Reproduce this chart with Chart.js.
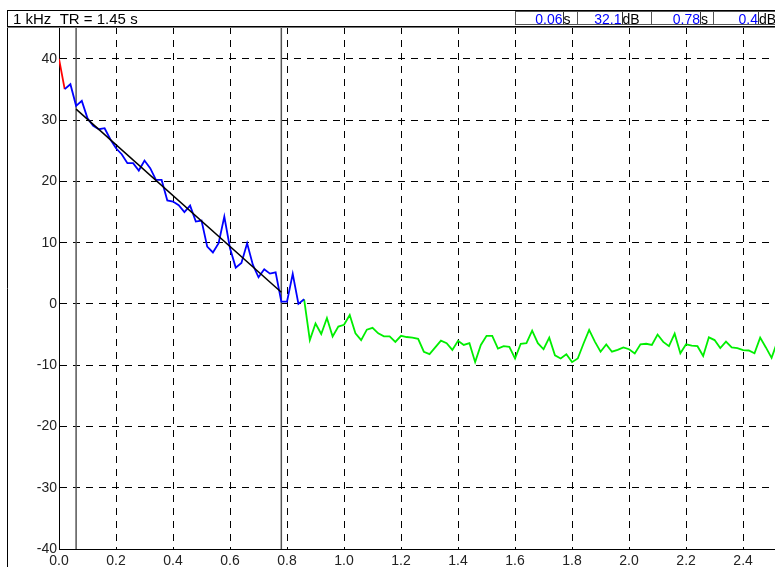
<!DOCTYPE html>
<html>
<head>
<meta charset="utf-8">
<script src="https://cdn.jsdelivr.net/npm/chart.js@4/dist/chart.umd.min.js"></script>
<style>
  html, body { margin: 0; padding: 0; background: #fff; }
  canvas { display: block; }
</style>
</head>
<body>
<canvas id="decay" width="775" height="567"></canvas>
<script>
// sample spacing of the decay curve, seconds
var DT = 0.02;

// decay levels in dB, split the way the picture colours them
var redStart = 0;
var redLevels = [40, 35.05];

var blueStart = 1;
var blueLevels = [
  35.05, 35.86, 32.33, 33.14, 30.31, 29.06, 28.52, 28.68, 26.88, 25.41,
  24.44, 22.97, 22.97, 21.77, 23.4, 22.15, 20.24, 20.24, 16.9, 16.7,
  16.1, 15.0, 16.05, 13.44, 13.6, 9.36, 8.4, 9.9, 14.26, 9.09,
  5.93, 6.7, 9.9, 6.4, 4.35, 5.66, 4.95, 5.17, 0.38, 0.38,
  4.9, 0.0, 0.76
];

var greenStart = 43;
var greenLevels = [
  0.76, -5.9, -3.2, -4.9, -2.3, -5.3, -3.7, -3.4, -1.8, -4.8,
  -5.9, -4.2, -3.9, -4.8, -5.3, -5.3, -6.2, -5.2, -5.4, -5.5,
  -5.7, -7.8, -8.2, -7.1, -6.0, -6.4, -7.5, -6.0, -6.7, -6.4,
  -9.5, -6.7, -5.2, -5.2, -7.3, -6.9, -7.0, -8.9, -6.5, -6.4,
  -4.35, -6.4, -7.4, -5.5, -8.4, -8.9, -8.2, -9.5, -8.9, -6.5,
  -4.24, -6.15, -7.8, -6.6, -7.8, -7.5, -7.1, -7.4, -8.1, -6.6,
  -6.5, -6.7, -5.0, -6.2, -6.9, -4.85, -8.05, -6.6, -6.8, -6.9,
  -8.5, -5.45, -5.9, -7.2, -6.15, -7.1, -7.2, -7.55, -7.6, -8.05,
  -5.5, -7.1, -8.8, -6.2
];

// regression line and evaluation limits
var fitTimes = [0.06, 0.78];
var fitLevels = [31.8, 1.9];
var markerTimes = [0.06, 0.78];

var title = "1 kHz  TR = 1.45 s";
var readoutValues = ["0.06", "32.1", "0.78", "0.4"];
var readoutUnits = ["s", "dB", "s", "dB"];

var X_MIN = 0, X_MAX = 2.512, X_STEP = 0.2;
var Y_MIN = -40, Y_MAX = 45.2, Y_STEP = 10;

function toPoints(start, levels) {
  return levels.map(function (v, i) { return { x: (start + i) * DT, y: v }; });
}

function pairPoints(xs, ys) {
  return xs.map(function (x, i) { return { x: x, y: ys[i] }; });
}

function markerPoints(t) {
  return [{ x: t, y: Y_MIN }, { x: t, y: Y_MAX }];
}

Chart.defaults.font.family = "'Liberation Sans', Arial, sans-serif";
Chart.defaults.font.size = 14;
Chart.defaults.color = "#222";

// header bar with the band / TR text and the readout fields
var header = {
  id: "header",
  afterDraw: function (chart) {
    var ctx = chart.ctx;
    ctx.save();
    ctx.strokeStyle = "#000";
    ctx.lineWidth = 1;
    ctx.beginPath();
    ctx.moveTo(7.5, 10); ctx.lineTo(7.5, 567);
    ctx.moveTo(7, 10.5); ctx.lineTo(775, 10.5);
    ctx.moveTo(7, 26.5); ctx.lineTo(775, 26.5);
    ctx.stroke();
    ctx.strokeStyle = "#777";
    ctx.beginPath();
    ctx.moveTo(7, 27.5); ctx.lineTo(775, 27.5);
    ctx.stroke();

    ctx.fillStyle = "#000";
    ctx.font = "15px 'Liberation Sans', Arial, sans-serif";
    ctx.textBaseline = "alphabetic";
    ctx.textAlign = "left";
    ctx.fillText(title, 13, 24);

    var boxLeft = [515, 577, 651, 713, 776];
    var valueRight = [562.5, 621.5, 700, 758];
    ctx.font = "14px 'Liberation Sans', Arial, sans-serif";
    for (var i = 0; i < readoutValues.length; i++) {
      ctx.strokeStyle = "#555";
      ctx.strokeRect(boxLeft[i] + 0.5, 11.5, boxLeft[i + 1] - boxLeft[i], 13);
      ctx.textAlign = "right";
      ctx.fillStyle = "#0000ff";
      ctx.fillText(readoutValues[i], valueRight[i], 23.5);
      ctx.strokeStyle = "#333";
      ctx.beginPath();
      ctx.moveTo(Math.round(valueRight[i]) + 0.5, 12);
      ctx.lineTo(Math.round(valueRight[i]) + 0.5, 24);
      ctx.stroke();
      ctx.textAlign = "left";
      ctx.fillStyle = "#000";
      ctx.fillText(readoutUnits[i], valueRight[i] + 1, 23.5);
    }
    ctx.restore();
  }
};

new Chart(document.getElementById("decay"), {
  type: "line",
  data: {
    datasets: [
      {
        data: pairPoints(fitTimes, fitLevels),
        borderColor: "#000",
        borderWidth: 1.5
      },
      {
        data: toPoints(blueStart, blueLevels),
        borderColor: "#0000ff",
        borderWidth: 1.8
      },
      {
        data: toPoints(redStart, redLevels),
        borderColor: "#ff0000",
        borderWidth: 1.8
      },
      {
        data: toPoints(greenStart, greenLevels),
        borderColor: "#00ee00",
        borderWidth: 1.8
      },
      {
        data: markerPoints(markerTimes[0]),
        borderColor: "#555",
        borderWidth: 1.5
      },
      {
        data: markerPoints(markerTimes[1]),
        borderColor: "#555",
        borderWidth: 1.5
      }
    ]
  },
  options: {
    responsive: false,
    animation: false,
    parsing: false,
    elements: {
      point: { radius: 0, hoverRadius: 0 },
      line: { tension: 0, fill: false }
    },
    layout: { padding: { top: 27, left: 0, right: 0, bottom: 0 } },
    plugins: {
      legend: { display: false },
      tooltip: { enabled: false },
      title: { display: false }
    },
    scales: {
      x: {
        type: "linear",
        min: X_MIN,
        max: X_MAX,
        afterFit: function (s) { s.height = 18; },
        ticks: {
          stepSize: X_STEP,
          includeBounds: false,
          maxRotation: 0,
          autoSkip: false,
          padding: 4,
          callback: function (v) { return v.toFixed(1); }
        },
        grid: { color: "#000", lineWidth: 1, drawTicks: false },
        border: { display: true, color: "#000", width: 1, dash: [7, 6] }
      },
      y: {
        min: Y_MIN,
        max: Y_MAX,
        afterFit: function (s) { s.width = 59; },
        ticks: {
          stepSize: Y_STEP,
          includeBounds: false,
          padding: 2,
          callback: function (v) { return String(v); }
        },
        grid: { color: "#000", lineWidth: 1, drawTicks: false },
        border: { display: true, color: "#000", width: 1, dash: [7, 6] }
      }
    }
  },
  plugins: [header]
});
</script>
</body>
</html>
